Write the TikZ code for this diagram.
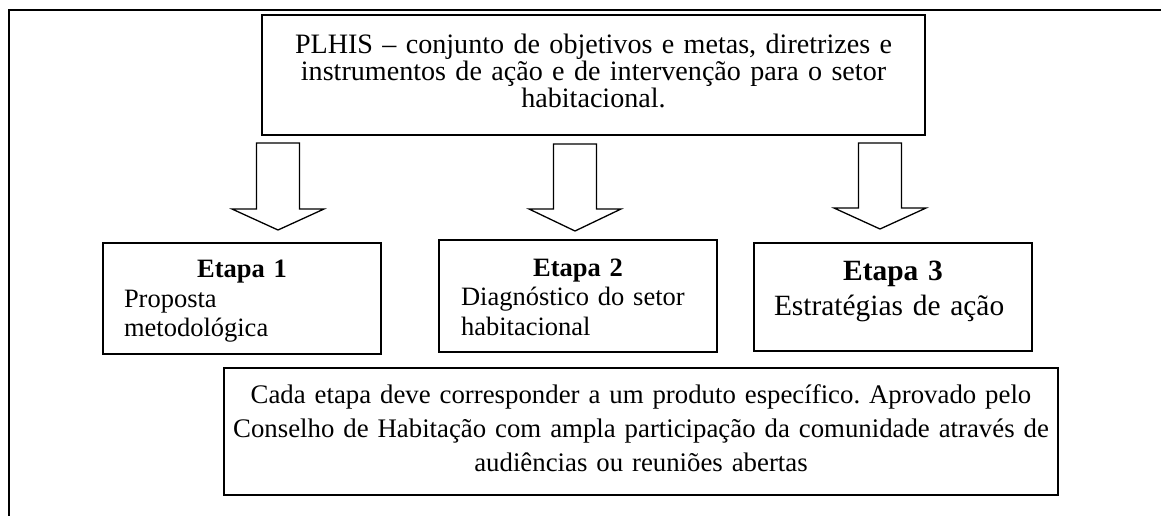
\documentclass[tikz,border=0pt]{standalone}
\usepackage{fontspec}
\setmainfont{Liberation Serif}
\usepackage{xcolor}
\usepackage{tikz}
\usetikzlibrary{positioning}

\begin{document}
\lineskiplimit=-20pt
\frenchspacing
\begin{tikzpicture}[
        x=1pt, y=-1pt,
        caixa/.style={line width=1.4pt},
        seta/.style={line width=1.3pt, fill=white, line join=miter},
        etapatext/.style={text width=#1, align=left, inner sep=0pt,
            font=\fontsize{26.5}{29.5}\selectfont}
    ]

                \useasboundingbox (0,0) rectangle (1161,515);

                % moldura
                \draw[line width=2.6pt] (9,516) -- (9,10) -- (1162,10);

                \draw[
                    caixa
                ] (262,15) rectangle (925,135) node[pos=.5, yshift=4.5pt, text width=650pt, align=center, inner sep=0pt,
                    font=\fontsize{28.1}{27}\selectfont] (plhis)
                    {PLHIS – conjunto de objetivos e metas, diretrizes e\\
                     instrumentos de ação e de intervenção para o setor\\
                     habitacional.};

                % setas
                \draw[
                    seta
                ] (256.5,143) -- (299.5,143) -- (299.5,209) -- (324,209) -- (278,230)
                  -- (232,209) -- (256.5,209) -- cycle;

                \draw[
                    seta
                ] (553.5,144) -- (596.5,144) -- (596.5,209) -- (621,209) -- (575,231)
                  -- (529,209) -- (553.5,209) -- cycle;

                \draw[
                    seta
                ] (858.5,143) -- (901.5,143) -- (901.5,208) -- (926,208) -- (880,229)
                  -- (834,208) -- (858.5,208) -- cycle;

                % etapas
                \draw[
                    caixa
                ] (103,243) rectangle (381,354) node[pos=.5, yshift=-3pt, etapatext=236pt] (etapa1)
                    {\hfill\textbf{Etapa 1}\hfill\null\\Proposta\\metodológica};

                \draw[
                    caixa
                ] (439,240) rectangle (717,352) node[pos=.5, yshift=-1pt, etapatext=234pt] (etapa2)
                    {\hfill\textbf{Etapa 2}\hfill\null\\Diagnóstico do setor\\habitacional};

                \draw[
                    caixa
                ] (754,243) rectangle (1032,351) node[pos=.5, yshift=6pt, etapatext=238pt,
                    font=\fontsize{29.4}{35}\selectfont] (etapa3)
                    {\hfill\textbf{Etapa 3}\hfill\null\\Estratégias de ação};

                \draw[
                    caixa
                ] (224,368) rectangle (1058,495) node[pos=.5, yshift=3pt, text width=820pt, align=center, inner sep=0pt,
                    font=\fontsize{26.8}{34}\selectfont] (produto)
                    {Cada etapa deve corresponder a um produto específico. Aprovado pelo\\
                     Conselho de Habitação com ampla participação da comunidade através de\\
                     audiências ou reuniões abertas};

            \end{tikzpicture}
\end{document}
